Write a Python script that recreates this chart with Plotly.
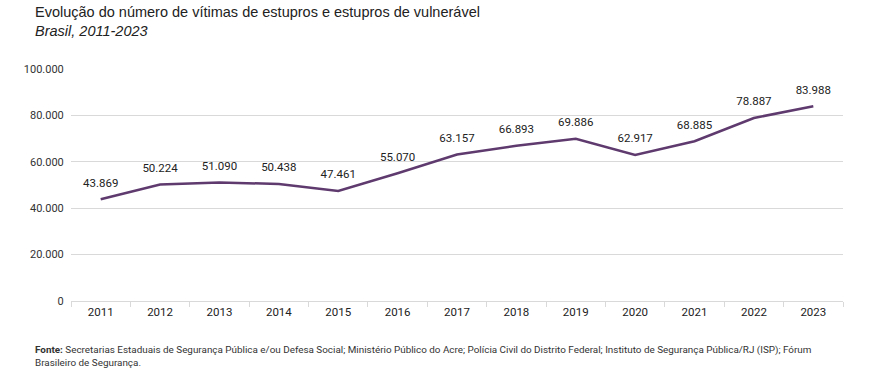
import plotly.graph_objects as go

years = ["2011", "2012", "2013", "2014", "2015", "2016", "2017", "2018", "2019", "2020", "2021", "2022", "2023"]
victims = [43869, 50224, 51090, 50438, 47461, 55070, 63157, 66893, 69886, 62917, 68885, 78887, 83988]
labels = ["43.869", "50.224", "51.090", "50.438", "47.461", "55.070", "63.157", "66.893", "69.886", "62.917", "68.885", "78.887", "83.988"]
y_ticks = [0, 20000, 40000, 60000, 80000, 100000]
y_tick_labels = ["0", "20.000", "40.000", "60.000", "80.000", "100.000"]

FONT = "Roboto, Arial, sans-serif"

fig = go.Figure()
fig.add_trace(go.Scatter(
    x=years, y=victims, mode="lines+markers+text",
    line=dict(color="#5e3a6e", width=2.5),
    marker=dict(size=14, color="rgba(0,0,0,0)"),
    text=labels, textposition="top center",
    textfont=dict(family=FONT, size=11.5, color="#222222"),
    hoverinfo="skip", cliponaxis=False,
))

fig.update_layout(
    width=878, height=381,
    margin=dict(l=71, r=35, t=69, b=80),
    paper_bgcolor="white", plot_bgcolor="white",
    showlegend=False,
    font=dict(family=FONT, color="#333333"),
    xaxis=dict(
        type="category", range=[-0.5, 12.5],
        showgrid=False, showline=True, linecolor="#d9d9d9", linewidth=1,
        ticks="outside", tickson="boundaries", ticklen=5, tickcolor="#d9d9d9",
        tickfont=dict(family=FONT, size=11.5, color="#222222"),
        zeroline=False,
    ),
    yaxis=dict(
        range=[0, 100000], tickvals=y_ticks, ticktext=y_tick_labels,
        showgrid=True, gridcolor="#d9d9d9", gridwidth=1,
        zeroline=False, showline=False,
        ticks="outside", ticklen=4, tickcolor="white",
        tickfont=dict(family=FONT, size=11, color="#333333"),
    ),
)

fig.add_annotation(
    text="Evolução do número de vítimas de estupros e estupros de vulnerável",
    xref="paper", yref="paper", x=(33 - 71) / 772, y=1, yshift=57,
    xanchor="left", yanchor="middle", showarrow=False,
    font=dict(family="Liberation Sans, Arial, sans-serif", size=14.5, color="#222222"),
)
fig.add_annotation(
    text="<i>Brasil, 2011-2023</i>",
    xref="paper", yref="paper", x=(33 - 71) / 772, y=1, yshift=38,
    xanchor="left", yanchor="middle", showarrow=False,
    font=dict(family="Liberation Sans, Arial, sans-serif", size=14.5, color="#222222"),
)
fig.add_annotation(
    text="<b>Fonte:</b> Secretarias Estaduais de Segurança Pública e/ou Defesa Social; Ministério Público do Acre; Polícia Civil do Distrito Federal; Instituto de Segurança Pública/RJ (ISP); Fórum<br>Brasileiro de Segurança.",
    xref="paper", yref="paper", x=(33 - 71) / 772, y=0, yshift=-41,
    xanchor="left", yanchor="top", align="left", showarrow=False,
    font=dict(family=FONT, size=9.9, color="#333333"),
)

fig.write_html("out.html", config={"displayModeBar": False},
               post_script="document.body.style.margin='0';")
